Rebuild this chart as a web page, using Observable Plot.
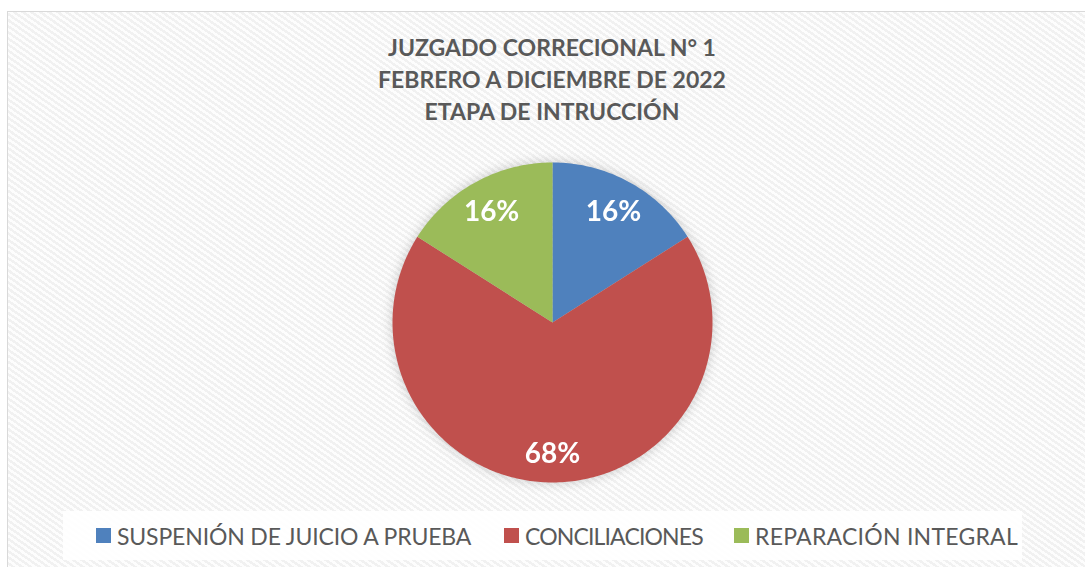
<!DOCTYPE html>
<html>
<head>
<meta charset="utf-8">
<script src="https://cdn.jsdelivr.net/npm/d3@7"></script>
<script src="https://cdn.jsdelivr.net/npm/@observablehq/plot@0.6"></script>
<style>
  html, body { margin: 0; padding: 0; background: #fff; }
  #wrap { position: relative; width: 1085px; height: 567px; overflow: hidden; font-family: Lato, "Open Sans", sans-serif; }
  #frame { position: absolute; left: 7px; top: 11px; width: 1090px; height: 570px;
    border: 1px solid #d9d9d9; box-sizing: border-box;
    background: repeating-linear-gradient(35deg, #fdfdfd 0px, #fdfdfd 2.5px, #f1f1f1 2.5px, #f1f1f1 5px); }
  #title { position: absolute; left: 0; width: 1104px; top: 31px; text-align: center; color: #595959;
    font-weight: bold; font-size: 23px; line-height: 32px; }
  #chart { position: absolute; left: 0; top: 0; }
  #chart svg { filter: drop-shadow(0px 0px 6px rgba(0,0,0,0.2)); }
  #legend { position: absolute; left: 63px; top: 511px; width: 959px; height: 49px;
    background: rgba(255,255,255,0.9); color: #595959; font-size: 23px; }
  .item { display: flex; align-items: center; position: absolute; top: 0; height: 49px; white-space: nowrap; }
  .sw { width: 15px; height: 15px; margin-right: 6px; }
</style>
</head>
<body>
<div id="wrap">
  <div id="frame"></div>
  <div id="title"></div>
  <div id="chart"></div>
  <div id="legend"></div>
</div>
<script>
const titleLines = ["JUZGADO CORRECIONAL N° 1", "FEBRERO A DICIEMBRE DE 2022", "ETAPA DE INTRUCCIÓN"];
const categories = ["SUSPENIÓN DE JUICIO A PRUEBA", "CONCILIACIONES", "REPARACIÓN INTEGRAL"];
const values = [16, 68, 16];
const labels = ["16%", "68%", "16%"];
const colors = ["#4f81bd", "#c0504d", "#9bbb59"];

document.getElementById("title").innerHTML = titleLines.join("<br>");

// slice geometry derived from values
const pie = d3.pie().sort(null).value(d => d.value)(categories.map((c, i) => ({category: c, value: values[i], label: labels[i]})));
const polys = [];
const labelPts = [];
for (const s of pie) {
  const n = Math.max(8, Math.ceil((s.endAngle - s.startAngle) * 60));
  polys.push({category: s.data.category, x: 0, y: 0});
  for (let k = 0; k <= n; k++) {
    const a = s.startAngle + (s.endAngle - s.startAngle) * k / n;
    polys.push({category: s.data.category, x: Math.sin(a), y: Math.cos(a)});
  }
  const m = (s.startAngle + s.endAngle) / 2;
  const r = s.data.value > 50 ? 0.82 : 0.79;
  labelPts.push({label: s.data.label, x: Math.sin(m) * r, y: Math.cos(m) * r});
}

const plot = Plot.plot({
  width: 1085,
  height: 567,
  style: {background: "transparent", overflow: "visible"},
  x: {domain: [-1, 1], range: [392, 712], axis: null},
  y: {domain: [-1, 1], range: [482, 162], axis: null},
  color: {domain: categories, range: colors},
  marks: [
    Plot.line(polys, {x: "x", y: "y", z: "category", fill: "category", stroke: "none", curve: "linear-closed"}),
    Plot.text(labelPts, {x: "x", y: "y", text: "label", fill: "white", fontSize: 28, fontWeight: "bold", fontFamily: "Lato, 'Open Sans', sans-serif"})
  ]
});
document.getElementById("chart").appendChild(plot);

const legend = document.getElementById("legend");
const itemLeft = [33, 441, 671];
const spacing = [-0.15, -0.85, 0.25];
categories.forEach((c, i) => {
  const it = document.createElement("div");
  it.className = "item";
  it.style.left = itemLeft[i] + "px";
  it.innerHTML = `<span class="sw" style="background:${colors[i]}"></span><span style="letter-spacing:${spacing[i]}px">${c}</span>`;
  legend.appendChild(it);
});
</script>
</body>
</html>
